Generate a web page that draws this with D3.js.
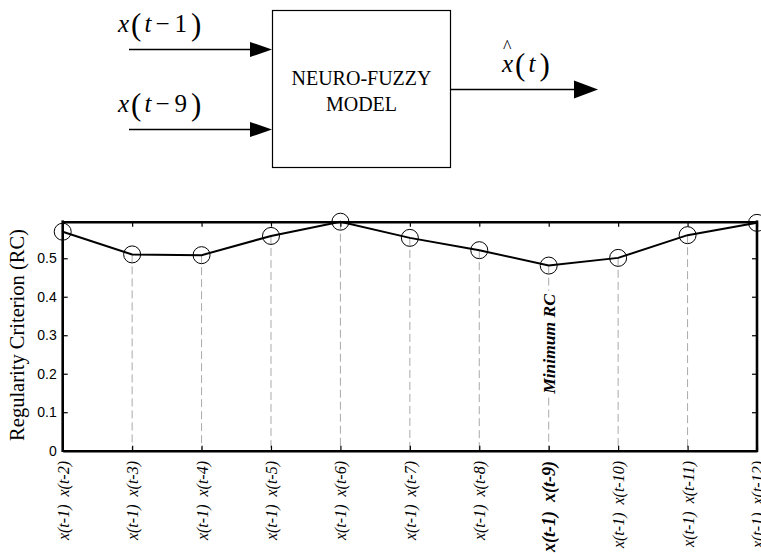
<!DOCTYPE html>
<html>
<head>
<meta charset="utf-8">
<script src="https://cdn.jsdelivr.net/npm/d3@7"></script>
<style>
  body { margin: 0; background: #fff; }
  svg { display: block; }
</style>
</head>
<body>
<div id="chart"></div>
<script>
// input pairs tested and their regularity criterion
var lagLabels = ["x(t-2)", "x(t-3)", "x(t-4)", "x(t-5)", "x(t-6)", "x(t-7)",
                 "x(t-8)", "x(t-9)", "x(t-10)", "x(t-11)", "x(t-12)"];
var rcValues = [0.569, 0.510, 0.508, 0.558, 0.595, 0.553, 0.521, 0.481, 0.501, 0.560, 0.592];
var yTicks = [0, 0.1, 0.2, 0.3, 0.4, 0.5];
var bestLag = "x(t-9)";

var SERIF = "'Liberation Serif', 'Times New Roman', 'DejaVu Serif', serif";
var SANS = "'Liberation Sans', Arial, sans-serif";

var W = 761, H = 554;
var svg = d3.select("#chart").append("svg")
    .attr("width", W).attr("height", H);

// ---------- block diagram on top ----------
var diag = svg.append("g").attr("font-family", SERIF);

diag.append("rect")
    .attr("x", 272.5).attr("y", 10.5)
    .attr("width", 178).attr("height", 157)
    .attr("fill", "none").attr("stroke", "#000").attr("stroke-width", 1.2);

diag.append("text").attr("x", 361.5).attr("y", 85)
    .attr("text-anchor", "middle").attr("font-size", 20)
    .text("NEURO-FUZZY");
diag.append("text").attr("x", 361.5).attr("y", 111)
    .attr("text-anchor", "middle").attr("font-size", 20)
    .text("MODEL");

function arrow(x1, x2, y, hl, hw) {
  diag.append("line")
      .attr("x1", x1).attr("x2", x2 - hl + 2).attr("y1", y).attr("y2", y)
      .attr("stroke", "#000").attr("stroke-width", 1.5);
  diag.append("path")
      .attr("d", "M" + (x2 - hl) + "," + (y - hw) + "L" + x2 + "," + y + "L" + (x2 - hl) + "," + (y + hw) + "Z")
      .attr("fill", "#000");
}
arrow(129, 272, 49.5, 22, 7.5);
arrow(129, 272, 129.5, 22, 7.5);
arrow(451, 598, 89.5, 24, 9);

// x(t - n) style labels with tall parentheses
function mathLabel(x, y, arg) {
  var t = diag.append("text").attr("x", x).attr("y", y).attr("font-size", 25);
  t.append("tspan").attr("font-style", "italic").text("x");
  t.append("tspan").attr("font-size", 31).attr("dx", 2).attr("dy", 3).text("(");
  t.append("tspan").attr("font-style", "italic").attr("dx", 3).attr("dy", -3).text("t");
  if (arg) {
    t.append("tspan").attr("dx", 4).text("\u2212");
    t.append("tspan").attr("dx", 5).text(arg);
  }
  t.append("tspan").attr("font-size", 31).attr("dx", 4).attr("dy", 3).text(")");
}
mathLabel(118, 32, "1");
mathLabel(118, 112, "9");
mathLabel(502, 72, null);
diag.append("text").attr("x", 503).attr("y", 53)
    .attr("font-size", 18).text("^");

// ---------- regularity criterion chart ----------
var pLeft = 62.7, pRight = 757, pTop = 221.7, pBottom = 450.7;

var x = d3.scalePoint().domain(lagLabels).range([pLeft, pRight]);
var y = d3.scaleLinear().domain([0, 0.595]).range([pBottom, pTop]);

var data = lagLabels.map(function(d, i) { return {lag: d, rc: rcValues[i]}; });

// dashed drops from each point
svg.append("g").selectAll("line")
    .data(data)
  .enter().append("line")
    .attr("x1", function(d) { return x(d.lag); })
    .attr("x2", function(d) { return x(d.lag); })
    .attr("y1", function(d) { return y(d.rc); })
    .attr("y2", pBottom)
    .attr("stroke", "#aaa").attr("stroke-width", 1)
    .attr("stroke-dasharray", "8,4");

// axes, ticks pointing inward
var fmt = function(d) { return d === 0 ? "0" : d3.format(".1f")(d); };
var gl = svg.append("g").attr("transform", "translate(" + pLeft + ",0)")
    .call(d3.axisLeft(y).tickValues(yTicks).tickSize(-5).tickSizeOuter(0).tickFormat(fmt));
gl.selectAll("text").attr("x", -6).attr("font-family", SANS)
    .attr("font-size", 14).attr("fill", "#000");

var gr = svg.append("g").attr("transform", "translate(" + pRight + ",0)")
    .call(d3.axisRight(y).tickValues(yTicks).tickSize(-5).tickSizeOuter(0).tickFormat(""));
var gt = svg.append("g").attr("transform", "translate(0," + pTop + ")")
    .call(d3.axisTop(x).tickSize(-5).tickSizeOuter(0).tickFormat(""));
var gb = svg.append("g").attr("transform", "translate(0," + pBottom + ")")
    .call(d3.axisBottom(x).tickSize(-5).tickSizeOuter(0).tickFormat(""));

[gl, gr, gt, gb].forEach(function(g) {
  g.select(".domain").attr("stroke", "#000").attr("stroke-width", 2.6);
  g.selectAll(".tick line").attr("stroke", "#000").attr("stroke-width", 1.2);
});
gl.select(".domain").attr("d", "M0," + (pBottom + 1.3) + "V" + (pTop - 1.3));
gr.select(".domain").attr("d", "M0," + (pBottom + 1.3) + "V" + (pTop - 1.3));

// RC line and markers
var line = d3.line()
    .x(function(d) { return x(d.lag); })
    .y(function(d) { return y(d.rc); });

svg.append("path")
    .attr("d", line(data))
    .attr("fill", "none").attr("stroke", "#000").attr("stroke-width", 2);

svg.append("g").selectAll("circle")
    .data(data)
  .enter().append("circle")
    .attr("cx", function(d) { return x(d.lag); })
    .attr("cy", function(d) { return y(d.rc); })
    .attr("r", 8.5)
    .attr("fill", "none").attr("stroke", "#000").attr("stroke-width", 1);

// minimum RC note
var minX = x(bestLag);
svg.append("rect").attr("x", minX - 9).attr("y", 291).attr("width", 18).attr("height", 106)
    .attr("fill", "#fff");
svg.append("text").attr("font-family", SERIF)
    .attr("transform", "translate(" + (minX + 6) + ",344) rotate(-90)")
    .attr("text-anchor", "middle")
    .attr("font-size", 17.5).attr("font-weight", "bold").attr("font-style", "italic")
    .text("Minimum RC");

// y axis title
svg.append("text").attr("font-family", SERIF)
    .attr("transform", "translate(24,335) rotate(-90)")
    .attr("text-anchor", "middle").attr("font-size", 20.5)
    .text("Regularity Criterion (RC)");

// x tick labels: pair of inputs, rotated
svg.append("g").attr("font-family", SERIF).selectAll("text")
    .data(lagLabels)
  .enter().append("text")
    .attr("transform", function(d) { return "translate(" + (x(d) + 6) + ",461) rotate(-90)"; })
    .attr("text-anchor", "end")
    .attr("font-style", "italic")
    .attr("font-size", function(d) { return d === bestLag ? 18 : 16; })
    .attr("font-weight", function(d) { return d === bestLag ? "bold" : "normal"; })
    .attr("xml:space", "preserve")
    .text(function(d) { return "x(t-1)  " + d; });
</script>
</body>
</html>
